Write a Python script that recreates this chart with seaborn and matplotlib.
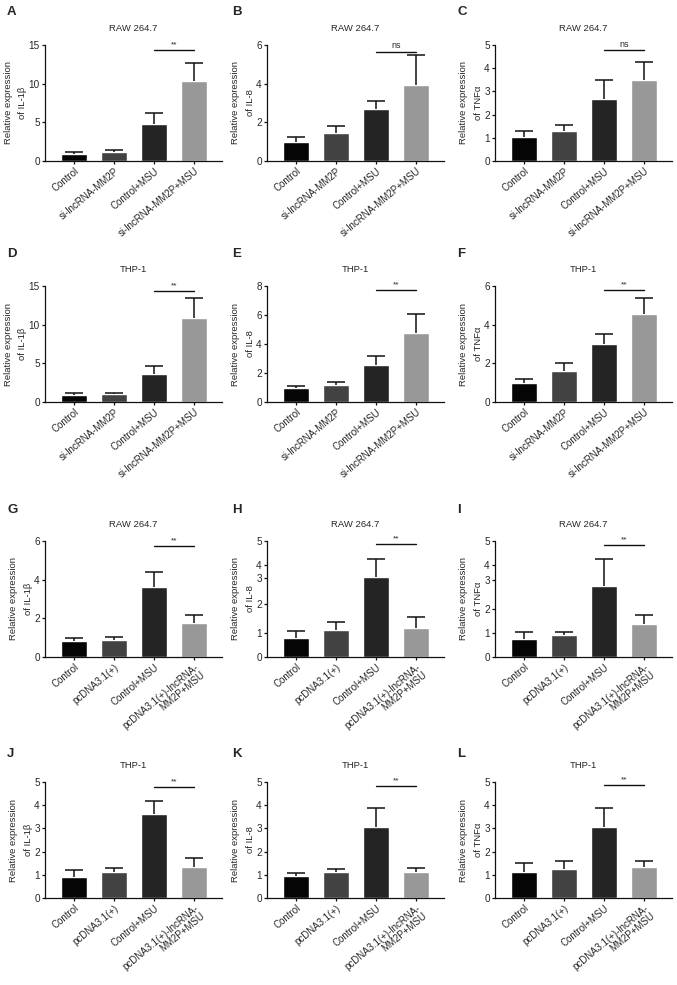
import numpy as np
import pandas as pd
import seaborn as sns
import matplotlib.pyplot as plt

sns.set_style('ticks')
plt.rcParams['font.family'] = ['Liberation Sans', 'DejaVu Sans']

groups_si = ['Control', 'si-lncRNA-MM2P', 'Control+MSU', 'si-lncRNA-MM2P+MSU']
groups_pc = ['Control', 'pcDNA3.1(+)', 'Control+MSU', 'pcDNA3.1(+)-lncRNA-\nMM2P+MSU']
bar_colors = ['#050505', '#424242', '#242424', '#989898']

letters = ['A', 'B', 'C', 'D', 'E', 'F', 'G', 'H', 'I', 'J', 'K', 'L']
cells = ['RAW 264.7', 'RAW 264.7', 'RAW 264.7', 'THP-1', 'THP-1', 'THP-1',
         'RAW 264.7', 'RAW 264.7', 'RAW 264.7', 'THP-1', 'THP-1', 'THP-1']
genes = ['IL-1β', 'IL-8', 'TNFα'] * 4

# bar means and top of error bar (mean + sd)
means = [
    [0.96, 1.20, 4.78, 10.3],
    [0.97, 1.45, 2.67, 3.92],
    [1.05, 1.29, 2.69, 3.48],
    [0.91, 1.00, 3.60, 10.9],
    [0.98, 1.17, 2.56, 4.73],
    [0.98, 1.59, 2.98, 4.53],
    [0.84, 0.89, 3.60, 1.78],
    [0.83, 1.18, 3.44, 1.24],
    [0.76, 0.94, 3.05, 1.44],
    [0.89, 1.12, 3.63, 1.32],
    [0.94, 1.10, 3.08, 1.11],
    [1.14, 1.23, 3.04, 1.33],
]
err_tops = [
    [1.20, 1.45, 6.20, 12.7],
    [1.25, 1.82, 3.10, 5.50],
    [1.29, 1.54, 3.49, 4.28],
    [1.13, 1.13, 4.60, 13.4],
    [1.07, 1.35, 3.17, 6.08],
    [1.21, 2.03, 3.50, 5.40],
    [0.98, 1.01, 4.41, 2.18],
    [1.10, 1.52, 4.21, 1.71],
    [1.08, 1.08, 4.22, 1.79],
    [1.19, 1.29, 4.17, 1.72],
    [1.08, 1.23, 3.87, 1.30],
    [1.52, 1.59, 3.90, 1.58],
]
sig_labels = ['**', 'ns', 'ns', '**', '**', '**', '**', '**', '**', '**', '**', '**']
sig_heights = [14.4, 5.66, 4.77, 14.35, 7.72, 5.78, 5.73, 4.85, 4.83, 4.78, 4.81, 4.86]
y_max = [15, 6, 5, 15, 8, 6, 6, 5, 5, 5, 5, 5]
y_ticks = [
    [0, 5, 10, 15],
    [0, 2, 4, 6],
    [0, 1, 2, 3, 4, 5],
    [0, 5, 10, 15],
    [0, 2, 4, 6, 8],
    [0, 2, 4, 6],
    [0, 2, 4, 6],
    [0, 1.05, 2.27, 3.39, 3.98, 5],
    [0, 1.04, 2.09, 3.31, 3.96, 5],
    [0, 1, 2, 3, 4, 5],
    [0, 1, 2, 3, 4, 5],
    [0, 1, 2, 3, 4, 5],
]
y_ticklabels = [
    ['0', '5', '10', '15'],
    ['0', '2', '4', '6'],
    ['0', '1', '2', '3', '4', '5'],
    ['0', '5', '10', '15'],
    ['0', '2', '4', '6', '8'],
    ['0', '2', '4', '6'],
    ['0', '2', '4', '6'],
    ['0', '1', '2', '3', '4', '5'],
    ['0', '1', '2', '3', '4', '5'],
    ['0', '1', '2', '3', '4', '5'],
    ['0', '1', '2', '3', '4', '5'],
    ['0', '1', '2', '3', '4', '5'],
]

W, H = 677, 985
fig = plt.figure(figsize=(W / 100, H / 100), dpi=100)

col_left = [45, 267, 495]
row_top = [45, 286, 541, 782]
ax_w, ax_h = 177, 116
letter_x = [7, 232, 457]
row_letter_y = [12, 254, 510, 754]

for i in range(12):
    r, c = divmod(i, 3)
    rect = [col_left[c] / W, 1 - (row_top[r] + ax_h) / H, ax_w / W, ax_h / H]
    ax = fig.add_axes(rect)
    groups = groups_si if r < 2 else groups_pc
    df = pd.DataFrame({'group': groups, 'value': means[i]})
    sns.barplot(data=df, x='group', y='value', hue='group', palette=bar_colors,
                saturation=1, width=0.65, errorbar=None, legend=False, ax=ax)
    # upward-only error bars with a cap
    xs = np.arange(4)
    ax.vlines(xs, means[i], err_tops[i], color='#111111', lw=1.1, zorder=1)
    ax.hlines(err_tops[i], xs - 0.22, xs + 0.22, color='#111111', lw=1.1, zorder=1)
    # significance bar between the two MSU groups
    ax.plot([2, 3], [sig_heights[i], sig_heights[i]], color='#111111', lw=1.0, clip_on=False)
    ax.text(2.5, sig_heights[i] + y_max[i] * 0.015, sig_labels[i], ha='center', va='bottom',
            fontsize=6.5 if sig_labels[i] == 'ns' else 6)

    ax.set_xlim(-0.72, 3.7)
    ax.set_ylim(0, y_max[i])
    ax.set_yticks(y_ticks[i])
    ax.set_yticklabels(y_ticklabels[i], fontsize=7.2)
    ax.set_xticks(range(4))
    ax.set_xticklabels(groups, rotation=40, ha='right', rotation_mode='anchor',
                       fontsize=7, linespacing=1.0)
    ax.tick_params(axis='both', length=2.5, width=0.9, pad=1.2, color='#111111')
    ax.set_xlabel('')
    ax.set_ylabel('Relative expression\nof ' + genes[i], fontsize=6.8, labelpad=1,
                  linespacing=1.8)
    ax.set_title(cells[i], fontsize=6.8, pad=10)
    for s in ['top', 'right']:
        ax.spines[s].set_visible(False)
    for s in ['left', 'bottom']:
        ax.spines[s].set_linewidth(0.9)
        ax.spines[s].set_color('#111111')

    fig.text(letter_x[c] / W, 1 - row_letter_y[r] / H, letters[i], fontsize=9.5,
             fontweight='bold', va='center', ha='left')

fig.savefig('out.png', dpi=100)
